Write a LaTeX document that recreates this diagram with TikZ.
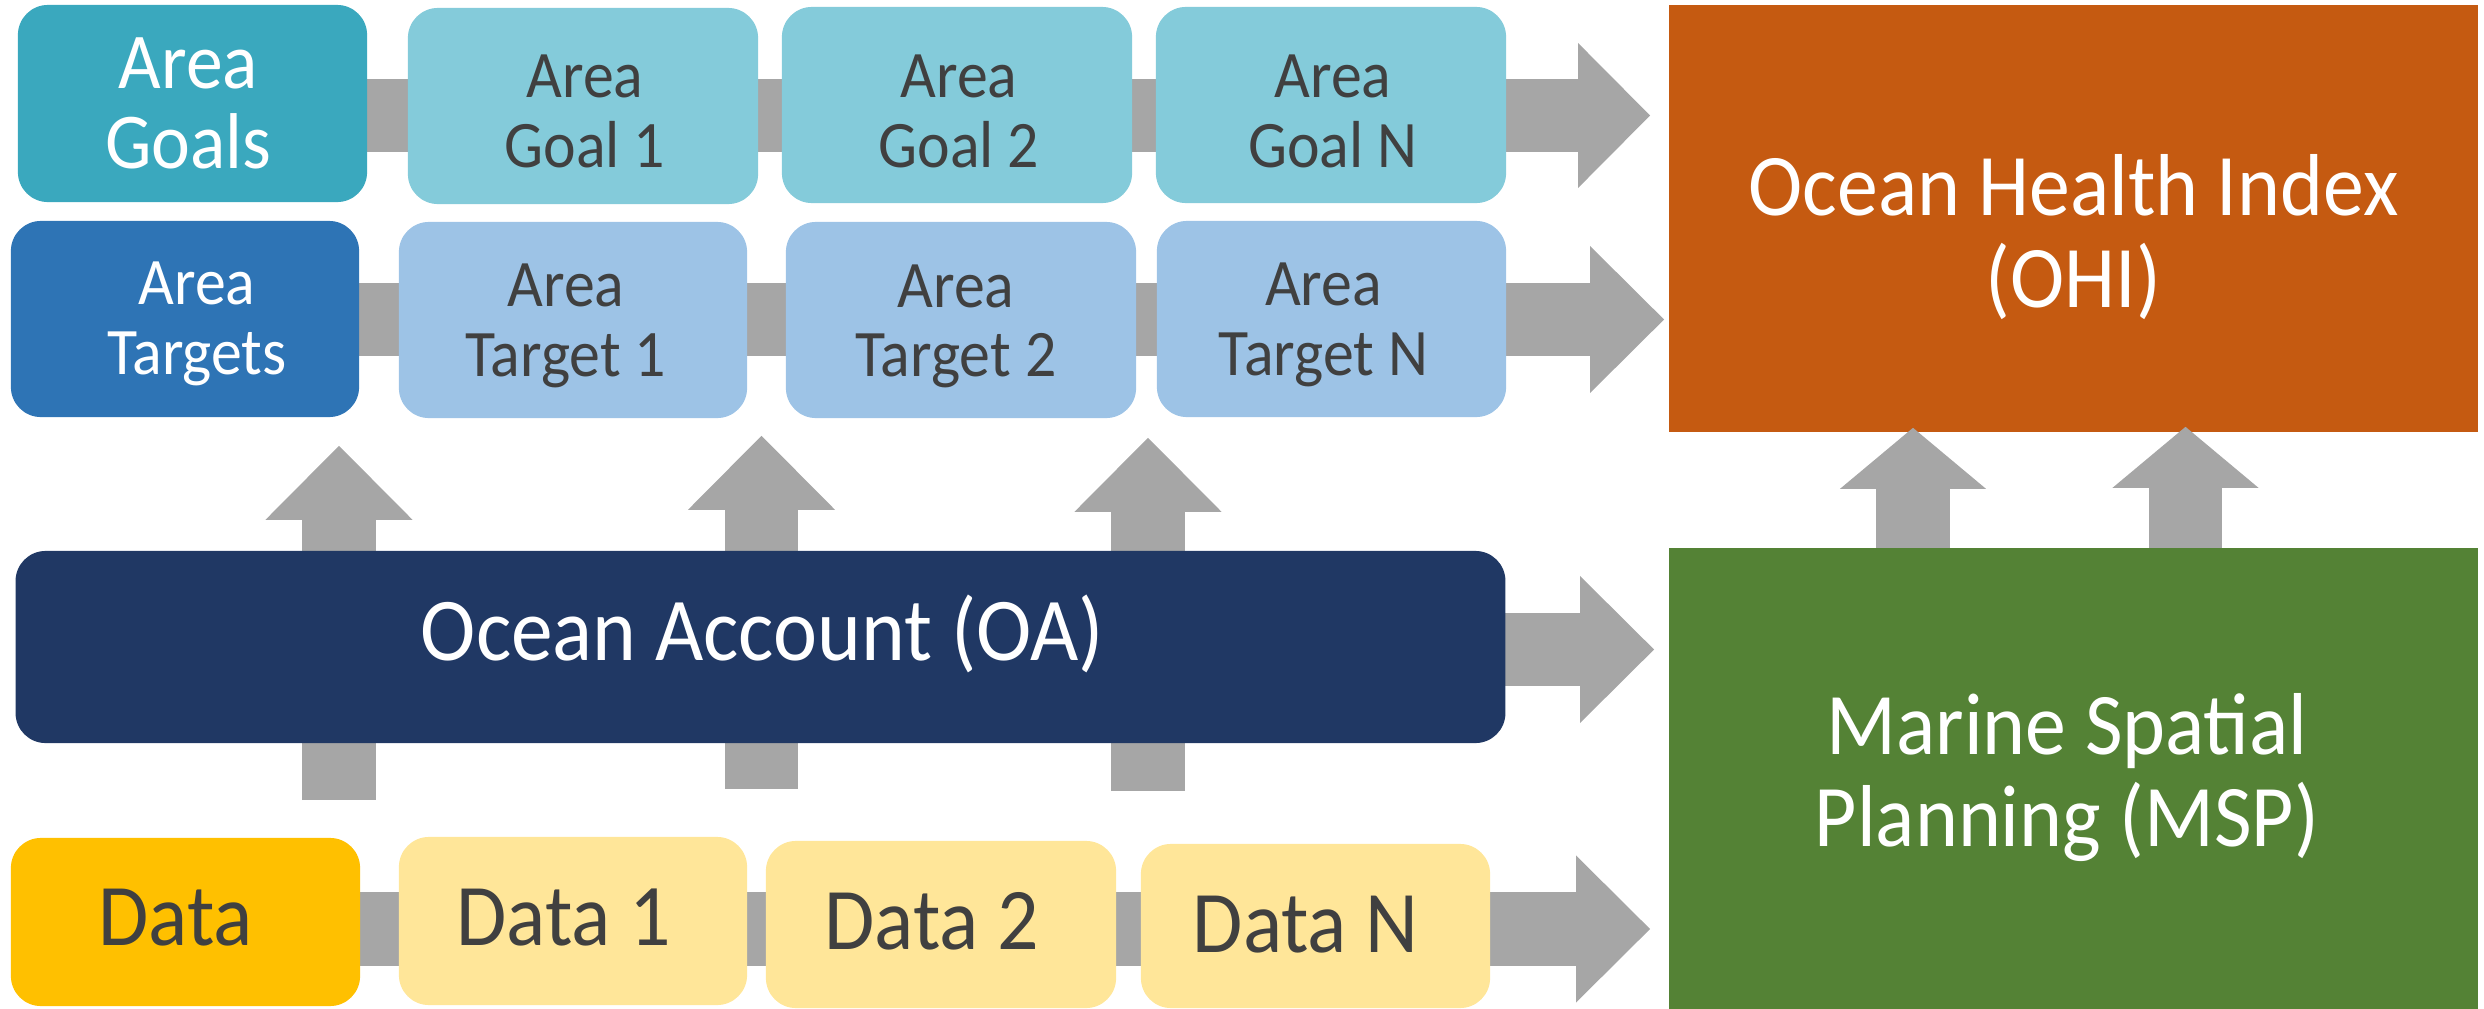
\documentclass[tikz,border=0pt]{standalone}
\usepackage{fontspec}
\setmainfont{Carlito}
\usetikzlibrary{arrows.meta}
\definecolor{goalsC}{HTML}{3AA8BE}
\definecolor{goalC}{HTML}{84CBDA}
\definecolor{targetsC}{HTML}{2E74B5}
\definecolor{targetC}{HTML}{9DC3E6}
\definecolor{oaC}{HTML}{203864}
\definecolor{dataC}{HTML}{FFC000}
\definecolor{databoxC}{HTML}{FFE699}
\definecolor{ohiC}{HTML}{C55A11}
\definecolor{mspC}{HTML}{548235}
\definecolor{arrowC}{HTML}{A6A6A6}
\definecolor{textC}{HTML}{404040}
\pgfdeclarelayer{background}
\pgfsetlayers{background,main}
% [#1] = shift to the right, #2 = downward shift, #3 = lines separated by \cr
\newcommand\boxtxt[3][0cm]{\hbox{\kern#1\raisebox{-#2}[\height][\depth]{\scalebox{0.93}[1]{\vbox{%
  \lineskiplimit=-\maxdimen\lineskip=0pt
  \halign{\hfil\vrule width 0pt height 0.9em depth 0.3em ##\hfil\cr#3\crcr}}}}\kern-#1}}
\tikzset{
  box/.style={rounded corners=0.3cm, inner sep=0pt, draw=none},
  smallbox/.style={box, minimum width=3.5cm, minimum height=1.96cm, text=textC,
     font=\fontsize{18.9pt}{19.8pt}\selectfont},
  headbox/.style={box, minimum width=3.49cm, minimum height=1.96cm, text=white,
     font=\fontsize{18.9pt}{19.8pt}\selectfont},
  databox/.style={box, minimum width=3.49cm, text=textC,
     font=\fontsize{25pt}{26.3pt}\selectfont},
  bigbox/.style={inner sep=0pt, text=white, minimum width=8.09cm,
     font=\fontsize{25pt}{26.3pt}\selectfont},
  harrow/.style={draw=arrowC, line width=0.73cm,
     -{Triangle[length=0.74cm, width=1.47cm, line width=0pt]}},
  uarrow/.style={draw=arrowC, line width=0.73cm,
     -{Triangle[length=0.61cm, width=1.46cm, line width=0pt]}},
}
\begin{document}
\begin{tikzpicture}[x=0.01cm, y=-0.01cm]
\useasboundingbox (0,0) rectangle (2484,1009);
% row 1
\node[headbox, fill=goalsC, minimum width=3.49cm, minimum height=1.97cm,
  font=\fontsize{22.5pt}{22.76pt}\selectfont] (goals) at (192.5,103.5) {\boxtxt[-0.04cm]{0.008cm}{Area\cr Goals}};
\node[smallbox, fill=goalC] (g1) at (583,106) {\boxtxt[0.02cm]{0.068cm}{Area\cr Goal 1}};
\node[smallbox, fill=goalC] (g2) at (957,105) {\boxtxt[0.02cm]{0.078cm}{Area\cr Goal 2}};
\node[smallbox, fill=goalC] (gN) at (1331,105) {\boxtxt[0.02cm]{0.078cm}{Area\cr Goal N}};
% row 2
\node[headbox, fill=targetsC, minimum width=3.48cm] (targets) at (185,319) {\boxtxt[0.12cm]{0.008cm}{Area\cr Targets}};
\node[smallbox, fill=targetC, minimum width=3.48cm] (t1) at (573,320) {\boxtxt[-0.07cm]{0.018cm}{Area\cr Target 1}};
\node[smallbox, fill=targetC] (t2) at (961,320) {\boxtxt[-0.05cm]{0.02cm}{Area\cr Target 2}};
\node[smallbox, fill=targetC, minimum width=3.49cm] (tN) at (1331.5,319) {\boxtxt[-0.08cm]{0.018cm}{Area\cr Target N}};
% ocean account
\node[box, fill=oaC, text=white, minimum width=14.89cm, minimum height=1.92cm,
  font=\fontsize{25.5pt}{27pt}\selectfont] (oa) at (760.5,647) {\boxtxt[0.02cm]{-0.13cm}{Ocean Account (OA)}};
% data row
\node[databox, fill=dataC, minimum height=1.68cm] (data) at (185.5,922) {\boxtxt[-0.1cm]{-0.024cm}{Data}};
\node[databox, fill=databoxC, minimum width=3.48cm, minimum height=1.68cm] (d1) at (573,921) {\boxtxt[-0.095cm]{-0.018cm}{Data 1}};
\node[databox, fill=databoxC, minimum width=3.5cm, minimum height=1.67cm] (d2) at (941,924.5) {\boxtxt[-0.095cm]{-0.016cm}{Data 2}};
\node[databox, fill=databoxC, minimum height=1.64cm] (dN) at (1315.5,926) {\boxtxt[-0.1cm]{0.006cm}{Data N}};
% MSP
\node[bigbox, fill=mspC, minimum height=4.61cm] (msp) at (2073.5,778.5) {\boxtxt[-0.065cm]{-0.046cm}{Marine Spatial\cr Planning (MSP)}};
\begin{pgfonlayer}{background}
\node[bigbox, fill=ohiC, minimum height=4.27cm] (ohi) at (2073.5,218.5) {\boxtxt{0.164cm}{Ocean Health Index\cr (OHI)}};
% horizontal arrows
\coordinate (r1) at (200,115.5);
\coordinate (r2) at (200,319.5);
\coordinate (r3) at (800,649.5);
\coordinate (r4) at (200,929);
\draw[harrow, -{Triangle[length=0.72cm, width=1.45cm, line width=0pt]}, shorten >=0.18cm] (r1) -- (r1 -| ohi.west);
\draw[harrow, shorten >=0.04cm] (r2) -- (r2 -| ohi.west);
\draw[harrow, shorten >=0.14cm] (r3) -- (r3 -| msp.west);
\draw[harrow, shorten >=0.18cm] (r4) -- (r4 -| msp.west);
% vertical arrows through the ocean account
\coordinate (v1) at (339,800);
\coordinate (v2) at (761.5,789);
\coordinate (v3) at (1148,791);
\draw[harrow, shorten >=0.28cm] (v1) -- (v1 |- targets.south);
\draw[harrow, shorten >=0.17cm] (v2) -- (v2 |- t1.south);
\draw[harrow, shorten >=0.20cm] (v3) -- (v3 |- tN.south);
% arrows from MSP to OHI
\coordinate (m1) at (1913,700);
\coordinate (m2) at (2185.5,700);
\draw[uarrow, shorten >=-0.05cm] (m1) -- (m1 |- ohi.south);
\draw[uarrow, shorten >=-0.06cm] (m2) -- (m2 |- ohi.south);
\end{pgfonlayer}
\end{tikzpicture}
\end{document}
